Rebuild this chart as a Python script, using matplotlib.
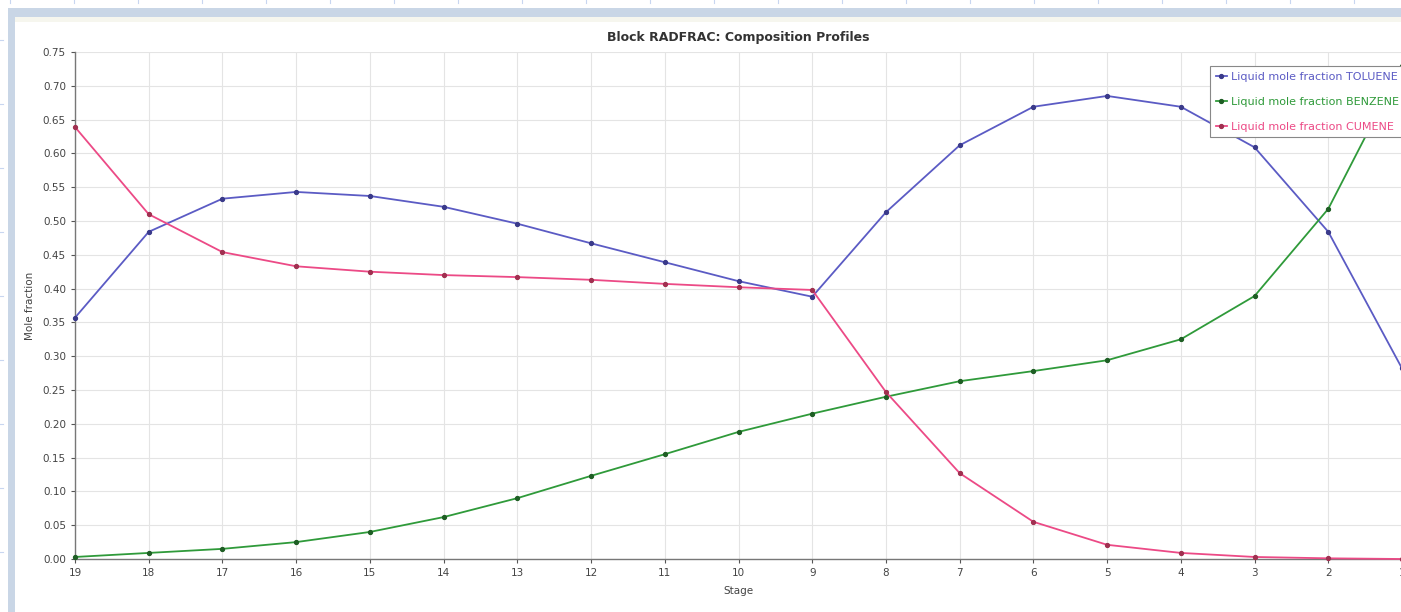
import matplotlib
matplotlib.use("Agg")
import matplotlib.pyplot as plt
from matplotlib.patches import Rectangle
from matplotlib.lines import Line2D

stages = [19, 18, 17, 16, 15, 14, 13, 12, 11, 10, 9, 8, 7, 6, 5, 4, 3, 2, 1]
toluene = [0.357, 0.484, 0.533, 0.543, 0.537, 0.521, 0.496, 0.467, 0.439, 0.411,
           0.388, 0.513, 0.612, 0.669, 0.685, 0.669, 0.609, 0.484, 0.282]
benzene = [0.003, 0.009, 0.015, 0.025, 0.040, 0.062, 0.090, 0.123, 0.155, 0.188,
           0.215, 0.240, 0.263, 0.278, 0.294, 0.325, 0.389, 0.518, 0.730]
cumene = [0.639, 0.510, 0.454, 0.433, 0.425, 0.420, 0.417, 0.413, 0.407, 0.402,
          0.398, 0.247, 0.127, 0.055, 0.021, 0.009, 0.003, 0.001, 0.000]
series_labels = ["Liquid mole fraction TOLUENE", "Liquid mole fraction BENZENE",
                 "Liquid mole fraction CUMENE"]
y_ticks = [0.00, 0.05, 0.10, 0.15, 0.20, 0.25, 0.30, 0.35, 0.40, 0.45, 0.50,
           0.55, 0.60, 0.65, 0.70, 0.75]

colors = ["#5b5bc4", "#2f9a3a", "#ec4a86"]
mcolors = ["#3a3a8a", "#1e5e24", "#a03050"]

W, H = 1401, 612
fig = plt.figure(figsize=(W / 100, H / 100), dpi=100)
fig.patch.set_facecolor("white")

# window frame decoration
fig.patches.append(Rectangle((8 / W, 0), 7 / W, 1 - 8 / H, transform=fig.transFigure,
                             facecolor="#c9d6e6", edgecolor="none", zorder=0))
fig.patches.append(Rectangle((8 / W, 1 - 17 / H), 1 - 8 / W, 9 / H, transform=fig.transFigure,
                             facecolor="#c9d6e6", edgecolor="none", zorder=0))
fig.patches.append(Rectangle((15 / W, 1 - 22 / H), 1 - 15 / W, 5 / H, transform=fig.transFigure,
                             facecolor="#f6f6ee", edgecolor="none", zorder=0))
for xp in range(10, W, 64):
    fig.lines.append(Line2D([xp / W, xp / W], [1 - 3 / H, 1], transform=fig.transFigure,
                            color="#c8d6f0", lw=0.8, zorder=1))
for yp in range(40, H, 64):
    fig.lines.append(Line2D([0, 3 / W], [1 - yp / H, 1 - yp / H], transform=fig.transFigure,
                            color="#c8d6f0", lw=0.8, zorder=1))

ax = fig.add_axes([75 / W, 1 - 559 / H, (1402 - 75) / W, (559 - 52) / H])
ax.set_facecolor("white")

for vals, lab, c, mc in zip([toluene, benzene, cumene], series_labels, colors, mcolors):
    ax.plot(stages, vals, color=c, lw=1.3, marker="o", markersize=2.8,
            markerfacecolor=mc, markeredgecolor=mc, label=lab, clip_on=False, zorder=3)

ax.set_xlim(19, 1)
ax.set_ylim(0, 0.75)
ax.set_xticks(stages)
ax.set_xticklabels([str(s) for s in stages])
ax.set_yticks(y_ticks)
ax.set_yticklabels([f"{v:.2f}" for v in y_ticks])
ax.tick_params(axis="both", labelsize=7.5, colors="#555555", length=3, width=0.8,
               labelcolor="#444444")
ax.grid(True, color="#e4e4e4", lw=0.8)
for s in ["top", "right"]:
    ax.spines[s].set_visible(False)
for s in ["left", "bottom"]:
    ax.spines[s].set_color("#777777")
    ax.spines[s].set_linewidth(1.0)

ax.set_xlabel("Stage", fontsize=7.5, color="#444444", labelpad=6)
ax.set_ylabel("Mole fraction", fontsize=7.5, color="#444444", labelpad=6)
fig.text(738 / W, 1 - 38 / H, "Block RADFRAC: Composition Profiles", ha="center",
         va="center", fontsize=9, fontweight="bold", color="#333333")

leg = fig.legend(loc="upper left", bbox_to_anchor=(1210 / W, 1 - 66 / H),
                 bbox_transform=fig.transFigure, fontsize=8, frameon=True,
                 fancybox=False, edgecolor="#888888", handlelength=1.0,
                 handletextpad=0.4, borderpad=0.5, labelspacing=1.35,
                 borderaxespad=0, framealpha=1)
leg.get_frame().set_linewidth(0.8)
for t, c in zip(leg.get_texts(), colors):
    t.set_color(c)

fig.savefig("out.png", dpi=100)
